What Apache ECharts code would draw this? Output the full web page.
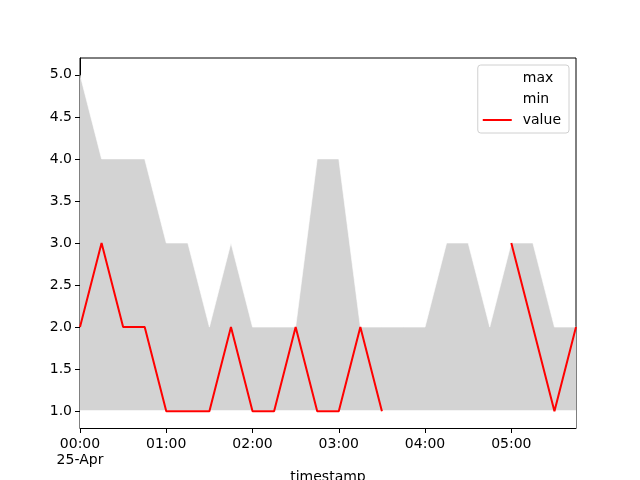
<!DOCTYPE html>
<html>
<head>
<meta charset="utf-8">
<script src="https://cdn.jsdelivr.net/npm/echarts@6/dist/echarts.min.js"></script>
<style>html,body{margin:0;padding:0;background:#fff}#c{width:640px;height:480px}</style>
</head>
<body>
<div id="c"></div>
<script>
const times = ['00:00','00:15','00:30','00:45','01:00','01:15','01:30','01:45','02:00','02:15','02:30','02:45',
               '03:00','03:15','03:30','03:45','04:00','04:15','04:30','04:45','05:00','05:15','05:30','05:45'];
const maxVals = [5,4,4,4,3,3,2,3,2,2,2,4,4,2,2,2,2,3,3,2,3,3,2,2];
const minVals = [1,1,1,1,1,1,1,1,1,1,1,1,1,1,1,1,1,1,1,1,1,1,1,1];
const values  = [2,3,2,2,1,1,1,2,1,1,2,1,1,2,1,null,null,null,null,null,3,2,1,2];
const dateLabel = '25-Apr';
const xTickLabels = ['00:00','01:00','02:00','03:00','04:00','05:00'];
const yTickLabels = [1.0,1.5,2.0,2.5,3.0,3.5,4.0,4.5,5.0];

const toMin = t => { const p = t.split(':'); return (+p[0])*60 + (+p[1]); };
const xs = times.map(toMin);
const xTicks = xTickLabels.map(toMin);
const font = 'DejaVu Sans';

const chart = echarts.init(document.getElementById('c'), null, {renderer: 'canvas'});
chart.setOption({
  animation: false,
  backgroundColor: '#fff',
  textStyle: {fontFamily: font},
  grid: {left: 80, right: 64, top: 58, bottom: 52, outerBoundsMode: 'none', containLabel: false,
    show: true, borderColor: '#000', borderWidth: 1, backgroundColor: 'transparent'},
  legend: {
    orient: 'vertical', right: 71, top: 65,
    backgroundColor: 'rgba(255,255,255,0.8)', borderColor: '#d0d0d0', borderWidth: 1, borderRadius: 3,
    padding: [6, 8, 6, 5], itemGap: 7, itemWidth: 29, itemHeight: 2, icon: 'rect',
    textStyle: {fontFamily: font, fontSize: 14, color: '#000', padding: [0, 0, 0, 6]},
    data: ['max', 'min', 'value']
  },
  xAxis: {
    type: 'value', min: xs[0], max: xs[xs.length - 1],
    name: 'timestamp', nameLocation: 'middle', nameGap: 42, nameMoveOverlap: false,
    nameTextStyle: {fontFamily: font, fontSize: 14, color: '#000'},
    axisLine: {show: true, lineStyle: {color: '#000', width: 1}},
    axisTick: {show: true, inside: false, length: 5, lineStyle: {color: '#000', width: 1}, customValues: xTicks},
    axisLabel: {
      customValues: xTicks, margin: 8, color: '#000', fontFamily: font, fontSize: 14, lineHeight: 16,
      formatter: v => {
        const h = Math.floor(v / 60), m = v % 60;
        const s = String(h).padStart(2, '0') + ':' + String(m).padStart(2, '0');
        return v === xs[0] ? s + '\n' + dateLabel : s;
      }
    },
    splitLine: {show: false}
  },
  yAxis: {
    type: 'value', min: 0.8, max: 5.2,
    axisLine: {show: true, lineStyle: {color: '#000', width: 1}},
    axisTick: {show: true, inside: false, length: 5, lineStyle: {color: '#000', width: 1}, customValues: yTickLabels},
    axisLabel: {customValues: yTickLabels, margin: 8, color: '#000', fontFamily: font, fontSize: 14,
      formatter: v => v.toFixed(1)},
    splitLine: {show: false}
  },
  series: [
    {
      name: 'max', type: 'line', symbol: 'none', color: '#ffffff',
      lineStyle: {color: '#ffffff', width: 1, opacity: 0.6},
      areaStyle: {color: '#d3d3d3', opacity: 1, origin: 'start'},
      data: xs.map((x, i) => [x, maxVals[i]]), z: 2
    },
    {
      name: 'min', type: 'line', symbol: 'none', color: '#ffffff',
      lineStyle: {color: '#ffffff', width: 2, opacity: 1},
      areaStyle: {color: '#ffffff', opacity: 1, origin: 'start'},
      data: xs.map((x, i) => [x, minVals[i]]), z: 3
    },
    {
      name: 'value', type: 'line', symbol: 'none', color: '#ff0000', connectNulls: false,
      lineStyle: {color: '#ff0000', width: 2},
      data: xs.map((x, i) => [x, values[i]]), z: 4
    }
  ]
});
</script>
</body>
</html>
